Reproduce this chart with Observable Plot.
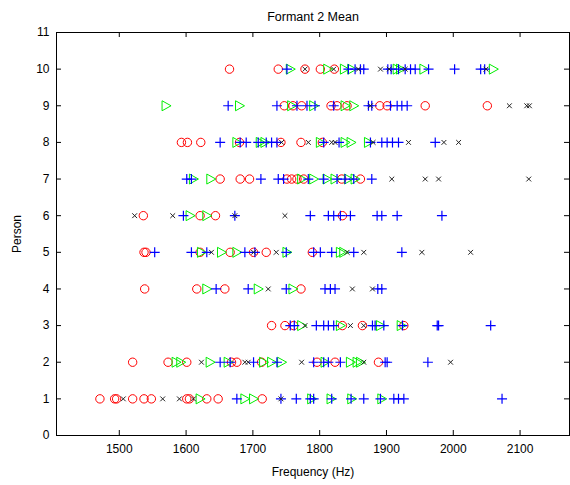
<!DOCTYPE html>
<html><head><meta charset="utf-8">
<script src="https://cdn.jsdelivr.net/npm/d3@7"></script>
<script src="https://cdn.jsdelivr.net/npm/@observablehq/plot@0.6"></script>
<style>body{margin:0;background:#fff;} svg{display:block;}</style>
</head><body><div id="chart"></div>
<script>
const title = "Formant 2 Mean";
const xLabel = "Frequency (Hz)";
const yLabel = "Person";
const xTicks = [1500, 1600, 1700, 1800, 1900, 2000, 2100];
const yTicks = [0, 1, 2, 3, 4, 5, 6, 7, 8, 9, 10, 11];

// [person, frequencies]
const redCircles = [
  [10, [1665, 1738, 1778, 1801, 1822]],
  [9, [1747, 1760, 1773, 1817, 1826, 1841, 1890, 1901, 1958, 2051]],
  [8, [1593, 1602, 1622, 1680, 1742, 1772, 1804]],
  [7, [1651, 1681, 1695, 1751, 1758, 1766, 1776, 1833, 1861]],
  [6, [1536, 1621, 1644, 1834]],
  [5, [1537, 1540, 1621, 1666, 1701, 1720, 1789]],
  [4, [1538, 1616, 1658, 1772]],
  [3, [1728, 1748, 1761, 1834, 1864, 1926]],
  [2, [1520, 1573, 1601, 1668, 1676, 1713, 1796, 1823, 1888]],
  [1, [1471, 1493, 1496, 1520, 1537, 1548, 1601, 1605, 1631, 1648, 1714]]
];
const greenTriangles = [
  [10, [1756, 1812, 1837, 1848, 1916, 1921, 1956, 2060]],
  [9, [1570, 1680, 1758, 1791, 1838, 1851]],
  [8, [1676, 1711, 1718, 1801, 1838, 1847, 1873]],
  [7, [1611, 1637, 1773, 1791, 1811, 1823, 1843, 1853]],
  [6, [1606, 1631]],
  [5, [1623, 1653, 1676, 1751, 1831, 1836]],
  [4, [1631, 1708, 1760]],
  [3, [1773, 1831, 1891, 1922]],
  [2, [1585, 1592, 1636, 1663, 1716, 1728, 1743, 1808, 1846, 1856, 1861]],
  [1, [1621, 1688, 1701, 1788, 1817, 1848, 1893]]
];
const bluePluses = [
  [10, [1751, 1843, 1853, 1861, 1866, 1902, 1907, 1918, 1928, 1936, 1943, 1963, 2002, 2041, 2047]],
  [9, [1663, 1736, 1766, 1781, 1793, 1821, 1873, 1878, 1906, 1916, 1923, 1931]],
  [8, [1651, 1681, 1690, 1708, 1720, 1728, 1736, 1806, 1829, 1876, 1893, 1901, 1909, 1918, 1973]],
  [7, [1601, 1608, 1712, 1738, 1746, 1783, 1806, 1826, 1838, 1851, 1878]],
  [6, [1596, 1673, 1786, 1813, 1821, 1831, 1846, 1886, 1893, 1916, 1983]],
  [5, [1553, 1608, 1631, 1688, 1703, 1750, 1791, 1801, 1818, 1851, 1923]],
  [4, [1645, 1693, 1750, 1808, 1816, 1823, 1887, 1893]],
  [3, [1756, 1762, 1795, 1806, 1813, 1821, 1879, 1883, 1896, 1924, 1976, 1978, 2056]],
  [2, [1651, 1666, 1701, 1736, 1791, 1806, 1813, 1831, 1898, 1901, 1962]],
  [1, [1676, 1742, 1765, 1786, 1791, 1818, 1847, 1866, 1891, 1911, 1918, 1926, 2073]]
];
const blackCrosses = [
  [10, [1778, 1821, 1858, 1891, 1904, 1928, 2049]],
  [9, [1876, 2084, 2110, 2114]],
  [8, [1743, 1783, 1818, 1823, 1880, 1933, 1986, 2008]],
  [7, [1908, 1958, 1978, 2113]],
  [6, [1523, 1580, 1673, 1748]],
  [5, [1638, 1701, 1735, 1841, 1866, 1953, 2026]],
  [4, [1723, 1849, 1879]],
  [3, [1778, 1846, 1866]],
  [2, [1623, 1688, 1693, 1773, 1866, 1996]],
  [1, [1506, 1565, 1590, 1611, 1742]]
];

const flat = rows => rows.flatMap(([p, hz]) => hz.map(f => ({person: p, hz: f})));

const rad = size => Math.sqrt(size / Math.PI);
const symCircle = {draw(c, s) { const r = rad(s); c.moveTo(r, 0); c.arc(0, 0, r, 0, 2 * Math.PI); }};
const symPlus = {draw(c, s) { const r = rad(s); c.moveTo(-r, 0); c.lineTo(r, 0); c.moveTo(0, -r); c.lineTo(0, r); }};
const symTimes = {draw(c, s) { const r = rad(s); c.moveTo(-r, -r); c.lineTo(r, r); c.moveTo(-r, r); c.lineTo(r, -r); }};
const symRight = {draw(c, s) { const r = rad(s); c.moveTo(r, 0); c.lineTo(-0.8 * r, -r); c.lineTo(-0.8 * r, r); c.closePath(); }};

const W = 570, H = 485, ML = 56, MR = 1, MT = 32, MB = 50;
const fw = W - ML - MR, fh = H - MT - MB, tick = 5;

const chart = Plot.plot({
  width: W,
  height: H,
  marginLeft: ML,
  marginRight: MR,
  marginTop: MT,
  marginBottom: MB,
  style: {fontFamily: "'Liberation Sans', Arial, sans-serif", fontSize: "12px", background: "#fff", color: "#000", overflow: "visible"},
  x: {domain: [1406, 2174]},
  y: {domain: [0, 11]},
  marks: [
    Plot.frame({stroke: "#000", strokeWidth: 1}),
    Plot.axisX(xTicks, {anchor: "bottom", tickSize: 0, tickPadding: 9, tickFormat: d => String(d), label: xLabel, labelAnchor: "center", labelArrow: "none", labelOffset: 40, fontSize: 12}),
    Plot.axisY(yTicks, {anchor: "left", tickSize: 0, tickPadding: 7, tickFormat: d => String(d), label: yLabel, labelAnchor: "center", labelArrow: "none", labelOffset: 44, fontSize: 12}),
    Plot.tickX(xTicks, {x: d => d, insetTop: fh - tick, stroke: "#000"}),
    Plot.tickX(xTicks, {x: d => d, insetBottom: fh - tick, stroke: "#000"}),
    Plot.tickY(yTicks, {y: d => d, insetRight: fw - tick, stroke: "#000"}),
    Plot.tickY(yTicks, {y: d => d, insetLeft: fw - tick, stroke: "#000"}),
    Plot.dot(flat(redCircles), {x: "hz", y: "person", symbol: symCircle, r: 4.2, fill: "none", stroke: "#ff0000", strokeWidth: 1}),
    Plot.dot(flat(greenTriangles), {x: "hz", y: "person", symbol: symRight, r: 5, fill: "none", stroke: "#00ee00", strokeWidth: 1}),
    Plot.dot(flat(bluePluses), {x: "hz", y: "person", symbol: symPlus, r: 5, fill: "none", stroke: "#0000ff", strokeWidth: 1.2}),
    Plot.dot(flat(blackCrosses), {x: "hz", y: "person", symbol: symTimes, r: 2.4, fill: "none", stroke: "#222", strokeWidth: 1}),
    Plot.text([title], {frameAnchor: "top", dy: -20, text: d => d, fontSize: 12.5, fill: "#000"})
  ]
});
document.getElementById("chart").append(chart);
</script>
</body></html>
